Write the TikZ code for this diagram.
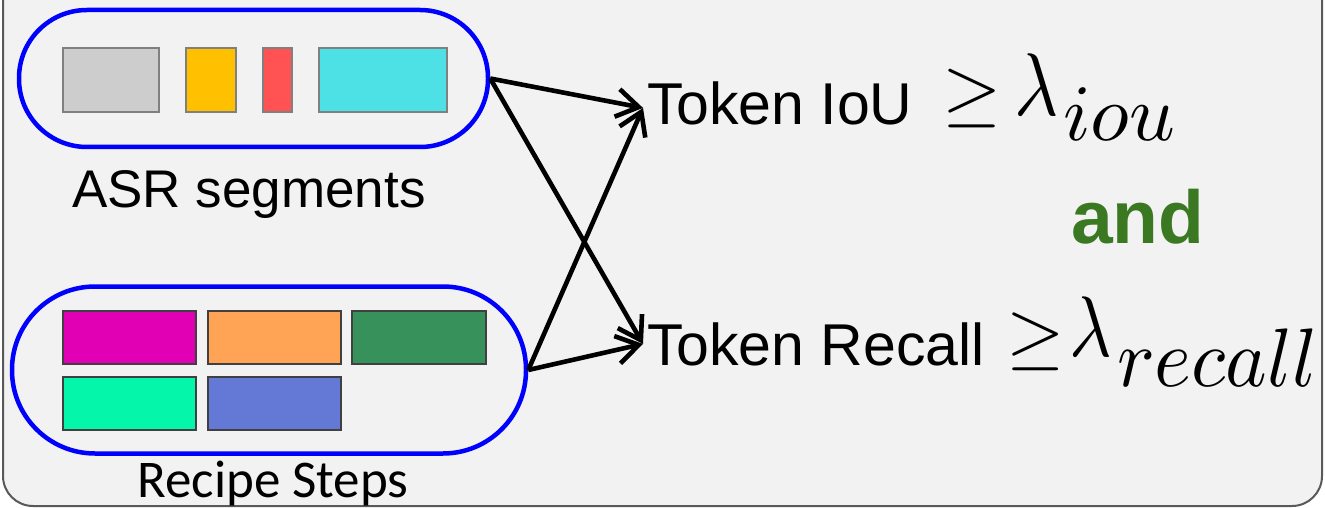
\documentclass[tikz,border=0pt]{standalone}
\usepackage{fontspec}
\usepackage{graphicx}
\setmainfont{Liberation Sans}
\newfontfamily\calibri{Carlito}
\usetikzlibrary{arrows.meta}
\definecolor{bgfill}{HTML}{F2F2F2}
\definecolor{bordergray}{HTML}{595959}
\definecolor{pillblue}{HTML}{0000FF}
\definecolor{cgray}{HTML}{CDCDCD}
\definecolor{cyellow}{HTML}{FFC000}
\definecolor{cred}{HTML}{FF5252}
\definecolor{ccyan}{HTML}{4DE1E6}
\definecolor{cmagenta}{HTML}{E100B4}
\definecolor{corange}{HTML}{FFA355}
\definecolor{cgreen}{HTML}{37915A}
\definecolor{cmint}{HTML}{04F6AA}
\definecolor{cblue}{HTML}{6478D6}
\definecolor{andgreen}{HTML}{3A7822}
\tikzset{
  pill/.style={draw=pillblue, line width=4.5pt, inner sep=0pt},
  asrbox/.style={draw=black!50, line width=1.2pt},
  recbox/.style={draw=black!75, line width=1.6pt},
  txt/.style={inner sep=0pt, outer sep=0pt, anchor=base west},
  link/.style={line width=4.6pt, -{Straight Barb[length=22pt,width=28pt,line width=4.6pt]}}
}
\begin{document}
\begin{tikzpicture}[x=1pt,y=-1pt]
\clip (0,0) rectangle (1325,508);
\useasboundingbox (0,0) rectangle (1325,508);
% background panel
\draw[fill=bgfill, draw=bordergray, line width=2pt, rounded corners=30pt] (3,-40) rectangle (1322,506);

% ASR pill
\node[pill, minimum width=469pt, minimum height=137pt, rounded corners=68pt] (asr) at (253.5,78.5) {};
\draw[asrbox, fill=cgray]   (63,48) rectangle (159,112);
\draw[asrbox, fill=cyellow] (186,48) rectangle (236,112);
\draw[asrbox, fill=cred]    (263,48) rectangle (292,112);
\draw[asrbox, fill=ccyan]   (319,48) rectangle (447,112);
\node[inner sep=0pt, anchor=base] (asrlabel) at (249,207) {\fontsize{53}{53}\selectfont ASR segments};

% Recipe pill
\node[pill, minimum width=514pt, minimum height=167pt, rounded corners=83pt] (rec) at (269,370) {};
\draw[recbox, fill=cmagenta] (63,311) rectangle (196,364);
\draw[recbox, fill=corange]  (208,311) rectangle (341,364);
\draw[recbox, fill=cgreen]   (352,311) rectangle (486,364);
\draw[recbox, fill=cmint]    (63,377) rectangle (196,430);
\draw[recbox, fill=cblue]    (208,377) rectangle (341,430);
\node[inner sep=0pt, anchor=base] (reclabel) at (273,497) {\fontsize{53}{53}\selectfont\calibri Recipe Steps};

% right side texts
\node[txt] (tiou) at (647,125) {\fontsize{59}{59}\selectfont Token IoU};
\node[txt] (geqa) at (942,118) {\scalebox{7.6}{$\geq$}};
\node[txt] (lama) at (1014,116) {\scalebox{7.6}[8.9]{$\lambda$}};
\node[txt] (suba) at (1063,140) {\scalebox{8}{$iou$}};

\node[txt] (and) at (1071,243) {\fontsize{75}{75}\selectfont\bfseries\color{andgreen}and};

\node[txt] (trec) at (647,365) {\fontsize{59}{59}\selectfont Token Recall};
\node[txt] (geqb) at (1006,360) {\scalebox{7.5}{$\geq$}};
\node[txt] (lamb) at (1069,356) {\scalebox{7.3}[8.6]{$\lambda$}};
\node[txt] (subb) at (1117,386) {\scalebox{7.9}[8.3]{$recall$}};

% connectors
\draw[link] (asr.east) -- ([xshift=-4pt,yshift=-4pt]tiou.west);
\draw[link] (asr.east) -- ([xshift=-4pt]trec.west);
\draw[link] (rec.east) -- ([xshift=-4pt,yshift=-4pt]tiou.west);
\draw[link] (rec.east) -- ([xshift=-4pt]trec.west);
\end{tikzpicture}
\end{document}
